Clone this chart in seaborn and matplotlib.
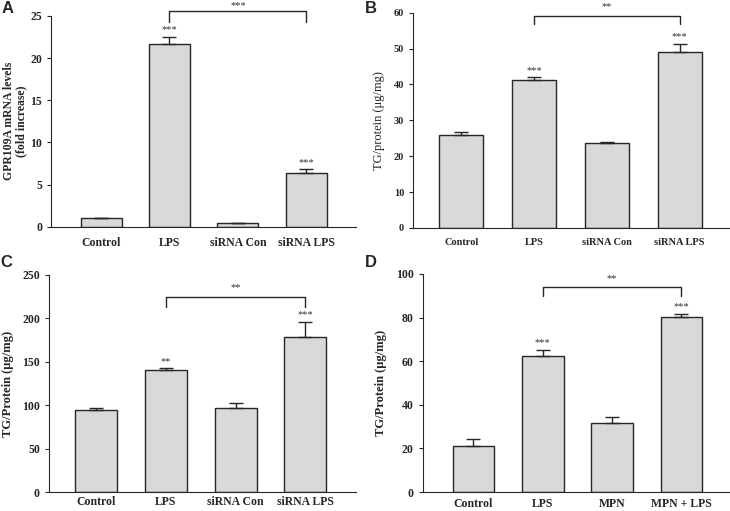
import numpy as np
import matplotlib
matplotlib.use('Agg')
import matplotlib.pyplot as plt
import seaborn as sns

# Panel data
groups_si = ['Control', 'LPS', 'siRNA Con', 'siRNA LPS']
groups_mpn = ['Control', 'LPS', 'MPN', 'MPN + LPS']

a_vals = [1.0, 21.7, 0.5, 6.4]
a_err = [0.0, 0.8, 0.0, 0.4]
a_stars = ['', '***', '', '***']

b_vals = [25.9, 41.3, 23.8, 49.1]
b_err = [0.8, 0.7, 0.2, 2.3]
b_stars = ['', '***', '', '***']

c_vals = [95, 140, 97, 178]
c_err = [1.5, 2.5, 5, 18]
c_stars = ['', '**', '', '***']

d_vals = [21.3, 62.3, 31.8, 80.2]
d_err = [3.0, 3.0, 2.7, 1.6]
d_stars = ['', '***', '', '***']

sns.set_style('ticks')
plt.rcParams['font.family'] = ['Liberation Serif', 'DejaVu Serif']

W, H = 730, 511
fig = plt.figure(figsize=(W / 100, H / 100), dpi=100)


def panel(rect, groups, vals, errs, stars, ylim, yticks, ylabel, letter, letter_xy,
          bracket, xlim, fs=8.5, xpad=7, lab_fs=8.6, lab_weight='bold', lab_pad=6):
    ax = fig.add_axes(rect)
    sns.barplot(x=groups, y=vals, color='#d9d9d9', edgecolor='#262626',
                linewidth=1.0, width=0.6, saturation=1, errorbar=None, ax=ax)
    x = np.arange(len(vals))
    ax.errorbar(x, vals, yerr=[np.zeros(len(vals)), errs], fmt='none',
                ecolor='#262626', elinewidth=1.0, capsize=5, capthick=1.0)
    rng = ylim[1] - ylim[0]
    for xi, v, e, s in zip(x, vals, errs, stars):
        if s:
            ax.text(xi, v + e + rng * 0.012, s, ha='center', va='bottom',
                    fontsize=7.5, color='#333333')
    # significance bracket
    x0, x1, ytop, ylow, lab, ylab = bracket
    ax.plot([x0, x0, x1, x1], [ylow, ytop, ytop, ylow], color='#262626',
            lw=1.0, clip_on=False)
    ax.text((x0 + x1) / 2, ylab, lab, ha='center', va='center', fontsize=7.5,
            color='#333333', clip_on=False)
    ax.set_ylim(*ylim)
    ax.set_xlim(*xlim)
    ax.set_yticks(yticks)
    sns.despine(ax=ax)
    ax.spines['left'].set_color('#262626')
    ax.spines['bottom'].set_color('#262626')
    ax.tick_params(axis='x', length=0, pad=xpad, labelsize=fs)
    ax.tick_params(axis='y', length=3, width=0.8, direction='out', labelsize=fs,
                   color='#262626')
    for t in ax.get_xticklabels() + ax.get_yticklabels():
        t.set_fontweight('bold')
    ax.set_ylabel(ylabel, fontsize=lab_fs, fontweight=lab_weight,
                  labelpad=lab_pad, linespacing=1.05)
    ax.set_xlabel('')
    fig.text(letter_xy[0] / W, 1 - letter_xy[1] / H, letter,
             fontsize=12, fontweight='bold', family='Liberation Sans',
             ha='left', va='top')
    return ax


panel([0.070, 0.556, 0.418, 0.413], groups_si, a_vals, a_err, a_stars,
      (0, 25), [0, 5, 10, 15, 20, 25],
      'GPR109A mRNA levels\n(fold increase)', 'A', (2, 1),
      (1, 3, 25.6, 24.3, '***', 26.25), (-0.73, 3.73), lab_fs=8.5, lab_pad=2)

panel([0.566, 0.554, 0.434, 0.421], groups_si, b_vals, b_err, b_stars,
      (0, 60), [0, 10, 20, 30, 40, 50, 60],
      'TG/protein (\u03bcg/mg)', 'B', (365, 1),
      (1, 3, 59.2, 56.9, '**', 61.8), (-0.66, 3.69),
      fs=7.5, lab_fs=9, lab_weight='normal')

panel([0.067, 0.037, 0.420, 0.425], groups_si, c_vals, c_err, c_stars,
      (0, 250), [0, 50, 100, 150, 200, 250],
      'TG/Protein (\u03bcg/mg)', 'C', (0, 255),
      (1, 3, 224.6, 213, '**', 235), (-0.68, 3.72), xpad=2.5, lab_fs=9)

panel([0.579, 0.037, 0.421, 0.427], groups_mpn, d_vals, d_err, d_stars,
      (0, 100), [0, 20, 40, 60, 80, 100],
      'TG/Protein (\u03bcg/mg)', 'D', (365, 255),
      (1, 3, 94, 90, '**', 98), (-0.73, 3.70), xpad=4, lab_fs=9)

fig.savefig('out.png', dpi=100)
